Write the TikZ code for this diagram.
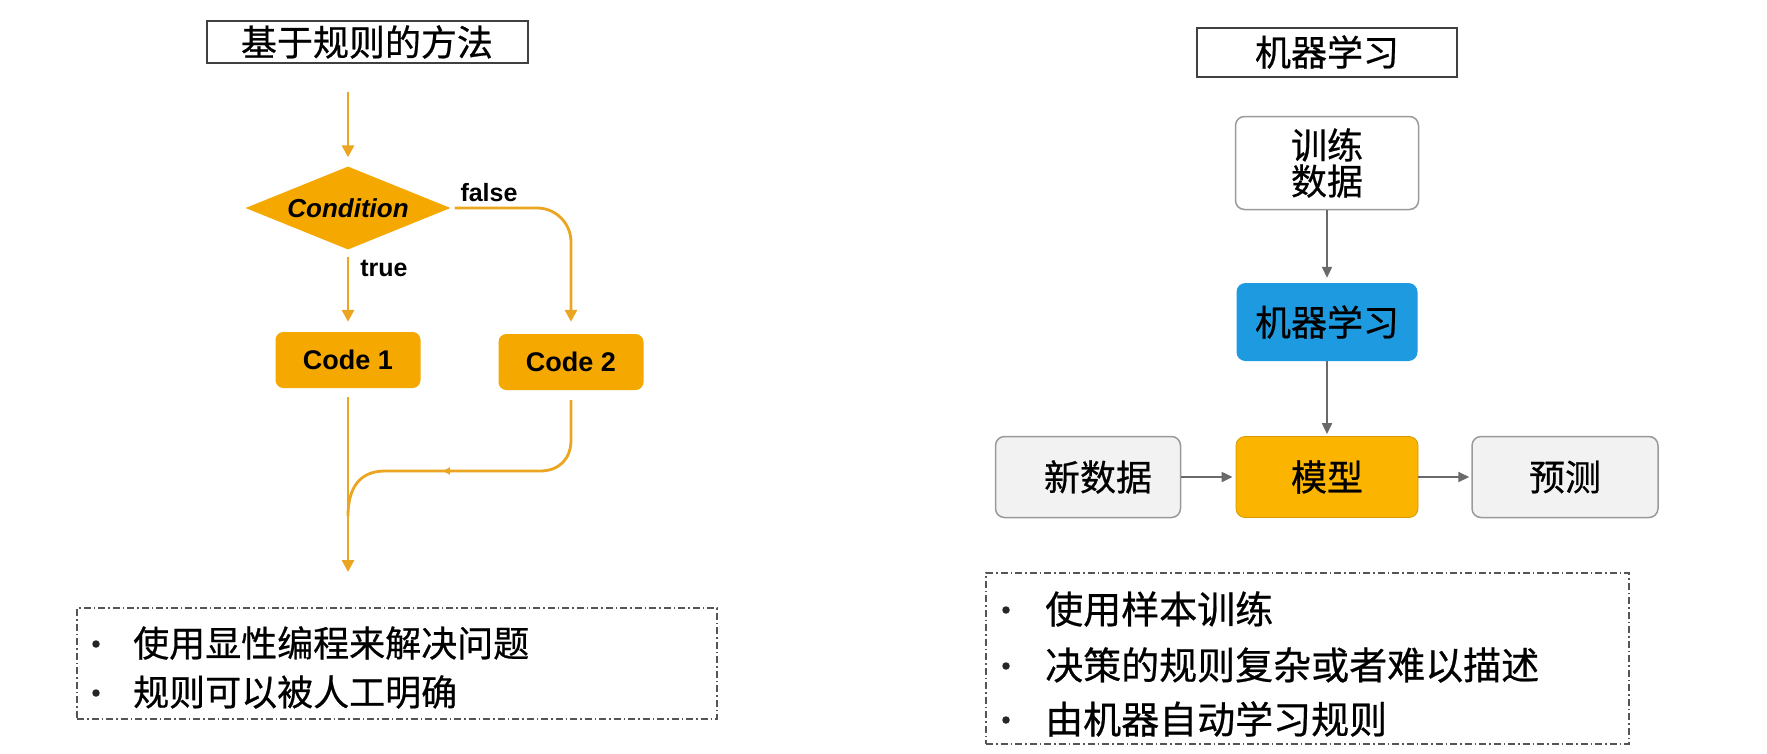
\documentclass[tikz,border=0pt]{standalone}
\usepackage{fontspec}
\setmainfont{Liberation Sans}
\newfontfamily\cjk[FakeBold=0.6]{Noto Sans CJK SC}
\usetikzlibrary{shapes.geometric,arrows.meta,decorations.markings}
\definecolor{orng}{HTML}{F5A800}
\definecolor{orline}{HTML}{EBA520}
\definecolor{mlblue}{HTML}{1E9BE0}
\definecolor{modelor}{HTML}{FBB500}
\definecolor{gfill}{HTML}{F2F2F2}
\definecolor{gline}{HTML}{9A9A9A}
\definecolor{arrg}{HTML}{6A6A6A}
\definecolor{dashc}{HTML}{555555}
\begin{document}
\begin{tikzpicture}[x=1pt,y=-1pt,
  cjkfont/.style={font=\cjk\fontsize{36}{40}\selectfont},
  latfont/.style={font=\fontsize{27}{30}\selectfont\bfseries},
  titlebox/.style={draw=black!75,line width=2pt,fill=white,inner sep=0pt,cjkfont},
  codebox/.style={fill=orng,rounded corners=8pt,minimum width=145pt,minimum height=56pt,inner sep=0pt,latfont},
  flowbox/.style={rounded corners=9pt,inner sep=0pt,cjkfont},
  orarrow/.style={draw=orline,line width=2.8pt,-{Triangle[length=12pt,width=12pt]}},
  orline/.style={draw=orline,line width=2.8pt},
  grarrow/.style={draw=arrg,line width=2pt,-{Triangle[length=11pt,width=10pt]}},
  dashbox/.style={draw=dashc,line width=1.5pt,dash pattern=on 7pt off 3pt on 1.5pt off 3pt,inner sep=0pt},
  bullet/.style={circle,fill=black!85,inner sep=0pt,minimum size=7.5pt},
  btext/.style={anchor=west,inner sep=0pt},
  lbl/.style={font=\fontsize{25}{28}\selectfont\bfseries,inner sep=0pt}
]
\useasboundingbox[fill=white] (0,0) rectangle (1767,753);

% ---------------- left: rule based ----------------
\node[titlebox,minimum width=321pt,minimum height=42pt] (t1) at (367,42) {基于规则的方法};
\coordinate (start) at (348,92);
\node[diamond,fill=orng,minimum width=205pt,minimum height=83pt,inner sep=0pt,aspect=2.47,
      font=\fontsize{26}{28}\selectfont\bfseries\itshape] (cond) at (348,208) {Condition};
\node[codebox] (c1) at (348,360) {Code 1};
\node[codebox] (c2) at (571,362) {Code 2};
\node[lbl] (lf) at (489,193) {false};
\node[lbl] (lt) at (384,268) {true};
\coordinate (end) at (348,572);
\coordinate (merge) at (348,516);
\coordinate (c2low) at (571,400);

\draw[orarrow,shorten >=9pt] (start) -- (cond.north);
\draw[orarrow,shorten <=7pt,shorten >=10pt] (cond.south) -- (c1.north);
\draw[orarrow,rounded corners=34pt,shorten <=4pt,shorten >=12pt] (cond.east) -| (c2.north);
\draw[orarrow,shorten <=9pt] (c1.south) -- (end);
\draw[orline,
      postaction={decorate,decoration={markings,mark=at position 0.6 with {\arrow{Triangle[length=7pt,width=7pt]}}}}]
  (c2low) -- (571,440) .. controls (571,459) and (559,471) .. (540,471)
  -- (385,471) .. controls (358,471) and (348,490) .. (merge);

\node[dashbox,minimum width=640pt,minimum height=111pt] (b1) at (397,663.5) {};
\node[bullet] (b1a) at (96,644) {};
\node[btext,cjkfont] (t1a) at (133,643) {使用显性编程来解决问题};
\node[bullet] (b1b) at (96,693) {};
\node[btext,cjkfont] (t1b) at (133,692) {规则可以被人工明确};

% ---------------- right: machine learning ----------------
\node[titlebox,minimum width=260pt,minimum height=49pt] (t2) at (1327,52) {机器学习};
\node[flowbox,draw=gline,line width=1.5pt,fill=white,minimum width=183pt,minimum height=93pt,align=center] (train) at (1327,163) {训练\\[-4pt]数据};
\node[flowbox,fill=mlblue,minimum width=181pt,minimum height=78pt] (ml) at (1327,322) {机器学习};
\node[flowbox,fill=modelor,draw=modelor!85!black,line width=0.8pt,minimum width=182pt,minimum height=81pt] (model) at (1327,477) {模型};
\node[flowbox,fill=gfill,draw=gline,line width=1.5pt,minimum width=185pt,minimum height=81pt] (newd) at (1088,477) {\hspace*{20pt}新数据};
\node[flowbox,fill=gfill,draw=gline,line width=1.5pt,minimum width=186pt,minimum height=81pt] (pred) at (1565,477) {预测};

\draw[grarrow,shorten >=5pt] (train.south) -- (ml.north);
\draw[grarrow,shorten >=2pt] (ml.south) -- (model.north);
\draw[grarrow,shorten >=3pt] (newd.east) -- (model.west);
\draw[grarrow,shorten >=2pt] (model.east) -- (pred.west);

\node[dashbox,minimum width=643pt,minimum height=171pt] (b2) at (1307.5,658.5) {};
\node[bullet] (b2a) at (1006,610) {};
\node[btext,cjkfont,font=\cjk\fontsize{38}{40}\selectfont] (t2a) at (1045,609) {使用样本训练};
\node[bullet] (b2b) at (1006,666) {};
\node[btext,cjkfont,font=\cjk\fontsize{38}{40}\selectfont] (t2b) at (1045,665) {决策的规则复杂或者难以描述};
\node[bullet] (b2c) at (1006,720) {};
\node[btext,cjkfont,font=\cjk\fontsize{38}{40}\selectfont] (t2c) at (1045,719) {由机器自动学习规则};
\end{tikzpicture}
\end{document}
